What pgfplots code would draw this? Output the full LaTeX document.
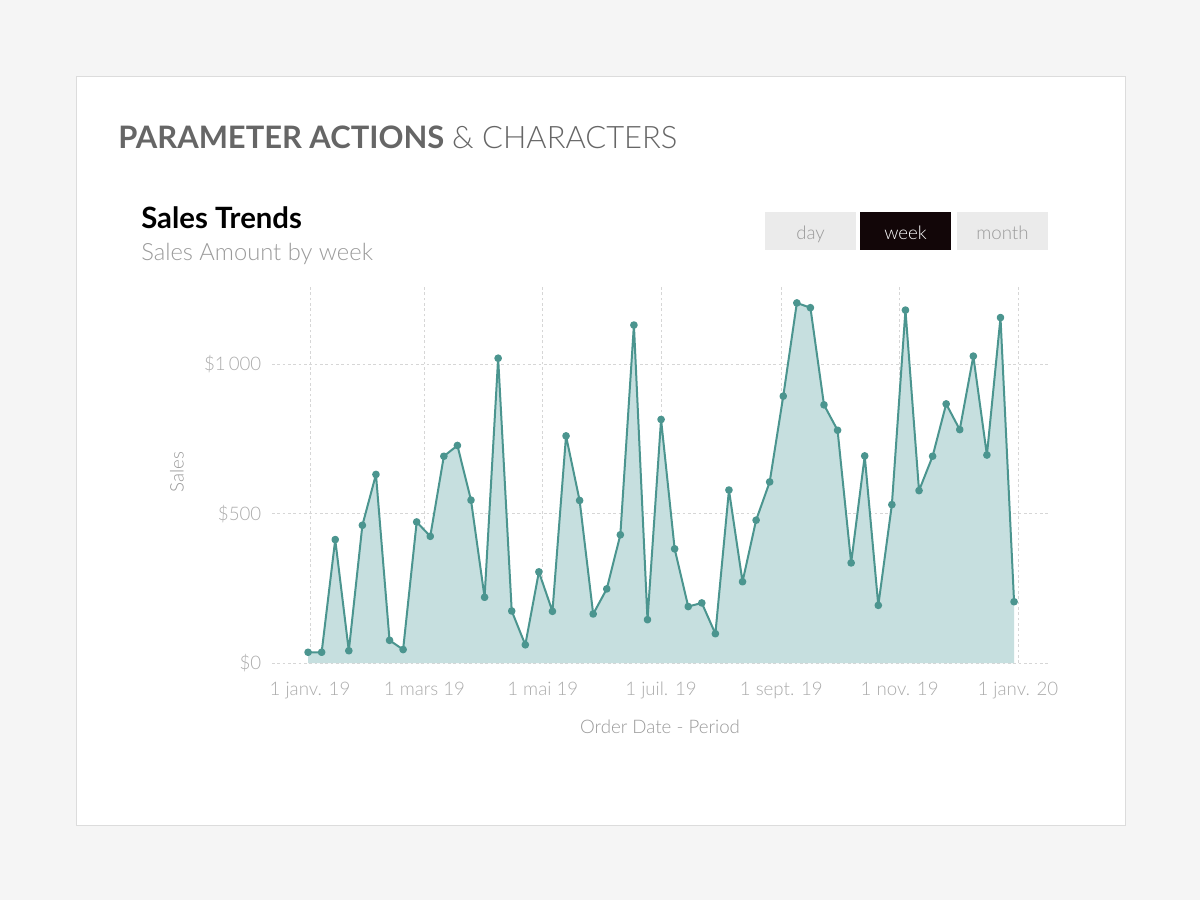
\documentclass[border=0pt]{standalone}
\usepackage{pgfplots}
\usepackage{pgfplotstable}
\pgfplotsset{compat=1.18}
\usepackage{fontspec}
\setmainfont{Lato}
\newfontfamily\lightfont{Lato Light}
\definecolor{bgc}{HTML}{F5F5F5}
\definecolor{cardb}{HTML}{DCDCDC}
\definecolor{titlec}{HTML}{666666}
\definecolor{subc}{HTML}{9A9A9A}
\definecolor{tickc}{HTML}{ABABAB}
\definecolor{btnc}{HTML}{EBEBEB}
\definecolor{btnd}{HTML}{120608}
\definecolor{linec}{HTML}{4B958F}
\definecolor{fillc}{HTML}{C6DFDF}
\definecolor{gridc}{HTML}{D6D6D6}
\pgfplotstableread{
day sales
-1 36
6 36
13 413
20 41
27 461
34 631
41 76
48 45
55 472
62 424
69 692
76 728
83 545
90 220
97 1020
104 174
111 61
118 305
125 173
132 760
139 544
146 164
153 248
160 429
167 1131
174 145
181 815
188 382
195 189
202 201
209 98
216 579
223 272
230 478
237 606
244 893
251 1205
258 1189
265 864
272 779
279 335
286 693
293 193
300 530
307 1181
314 577
321 692
328 867
335 781
342 1027
349 696
356 1156
363 205
}\salesdata
\begin{document}
\begin{tikzpicture}[x=0.75pt,y=-0.75pt]
\fill[bgc] (0,0) rectangle (1200,900);
\filldraw[fill=white,draw=cardb,line width=0.75pt] (76,76) rectangle (1125,825);
\node[anchor=base west,inner sep=0,text=titlec,font=\fontsize{23.2}{28}\selectfont] at (118,148) {\textbf{PARAMETER ACTIONS} {\lightfont\& CHARACTERS}};
\node[anchor=base west,inner sep=0,text=black,font=\fontsize{22}{26}\selectfont\bfseries] at (141,228) {Sales Trends};
\node[anchor=base west,inner sep=0,text=subc,font=\lightfont\fontsize{17.8}{21}\selectfont] at (141,260) {Sales Amount by week};
\fill[btnc] (765,212) rectangle (856,250);
\fill[btnd] (860,212) rectangle (951,250);
\fill[btnc] (957,212) rectangle (1048,250);
\node[anchor=base,inner sep=0,text=subc,font=\lightfont\fontsize{14}{17}\selectfont] at (810.5,239) {day};
\node[anchor=base,inner sep=0,text=white,font=\lightfont\fontsize{14}{17}\selectfont] at (905.5,239) {week};
\node[anchor=base,inner sep=0,text=subc,font=\lightfont\fontsize{14}{17}\selectfont] at (1002.5,239) {month};
\coordinate (A) at (272,663);
\begin{axis}[
  at={(A)}, anchor=south west,
  scale only axis, width=582pt, height=283.5pt,
  xmin=-19.6, xmax=380.5, ymin=0, ymax=1265,
  axis line style={draw=none},
  major tick length=0pt,
  xtick={0,59,120,181,243,304,365},
  xticklabels={1 janv. 19,1 mars 19,1 mai 19,1 juil. 19,1 sept. 19,1 nov. 19,1 janv. 20},
  ytick={0,500,1000},
  yticklabels={\$0,\$500,\$1\,000},
  grid=major,
  major grid style={gridc, dash pattern=on 2pt off 2pt, line width=0.6pt},
  tick label style={font=\lightfont\fontsize{14}{17}\selectfont, text=tickc},
  xticklabel style={yshift=-10.5pt},
  yticklabel style={xshift=-4.5pt},
  xlabel={Order Date - Period},
  ylabel={Sales},
  label style={font=\lightfont\fontsize{14}{17}\selectfont, text=subc},
  xlabel style={at={(axis description cs:0.5,-0.169)}, anchor=center},
  ylabel style={at={(axis description cs:-0.1224,0.505)}, anchor=center},
  clip=false,
]
\addplot[fill=fillc, draw=none] table[x=day,y=sales] {\salesdata} \closedcycle;
\addplot[linec, line width=1.5pt, line join=round, mark=*, mark size=2.1pt, mark options={fill=linec,draw=linec,line join=round}] table[x=day,y=sales] {\salesdata};
\end{axis}
\end{tikzpicture}
\end{document}
